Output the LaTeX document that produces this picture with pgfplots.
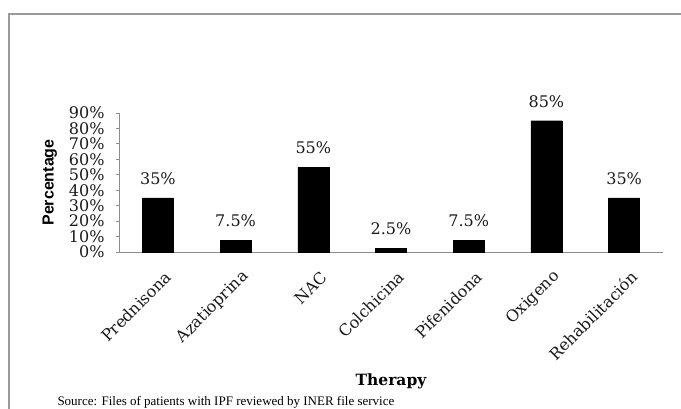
\documentclass[border=0pt]{standalone}
\usepackage{fontspec}
\setmainfont{DejaVu Serif}
\newfontfamily\arialfont{Liberation Sans}
\newfontfamily\timesfont{Liberation Serif}
\usepackage{pgfplots}
\pgfplotsset{compat=1.18}
\definecolor{axgray}{HTML}{8C8C8C}
\definecolor{framegray}{HTML}{9A9A9A}
\definecolor{txt}{HTML}{1A1A1A}
\begin{document}
\begin{tikzpicture}
\path[use as bounding box] (0,0) rectangle (681bp,409bp);
\draw[framegray, line width=1.3bp] (9bp,0) -- (9bp,395bp) -- (681bp,395bp);
\begin{axis}[
  at={(119bp,157bp)}, anchor=south west,
  scale only axis, width=544bp, height=139bp,
  xmin=-0.5, xmax=6.5, ymin=0, ymax=90,
  axis x line*=bottom, axis y line*=left,
  axis line style={axgray, line width=1bp},
  tick align=outside,
  major tick length=3bp,
  ytick={0,10,...,90},
  yticklabel={\pgfmathprintnumber{\tick}\%},
  /pgf/number format/assume math mode=true,
  yticklabel style={font=\fontsize{16bp}{16bp}\selectfont, text=txt, xshift=-8bp},
  ytick style={axgray, line width=1bp},
  xtick={0,...,6},
  xticklabels={Prednisona,Azatioprina,NAC,Colchicina,Pifenidona,Oxigeno,Rehabilitación},
  xtick style={draw=none},
  xticklabel style={rotate=45, anchor=east, inner sep=0pt, font=\fontsize{16bp}{16bp}\selectfont, text=txt, xshift=-6bp, yshift=-21bp},
  extra x ticks={-0.5,0.5,1.5,2.5,3.5,4.5,5.5,6.5},
  extra x tick labels={},
  extra x tick style={major tick length=5bp, tick style={axgray, line width=1bp, draw=axgray}},
  ylabel={Percentage},
  ylabel style={at={(axis description cs:-0.127,0.5)}, anchor=center, font=\arialfont\bfseries\fontsize{16bp}{16bp}\selectfont},
  xlabel={Therapy},
  xlabel style={at={(axis description cs:0.5,-0.957)}, anchor=base, font=\bfseries\fontsize{15.5bp}{15.5bp}\selectfont},
  clip=false,
]
\addplot[ybar, bar width=31bp, fill=black, draw=black,
  nodes near coords={\pgfmathprintnumber{\pgfplotspointmeta}\%},
  nodes near coords style={font=\fontsize{16bp}{16bp}\selectfont, text=txt, inner sep=0pt, anchor=south, yshift=13bp},
] coordinates {(0,35) (1,7.5) (2,55) (3,2.5) (4,7.5) (5,85) (6,35)};
\end{axis}
\node[anchor=base west, font=\timesfont\fontsize{13bp}{13bp}\selectfont] at (54bp,4bp) {Source: Files of patients with IPF reviewed by INER file service};
\end{tikzpicture}
\end{document}
